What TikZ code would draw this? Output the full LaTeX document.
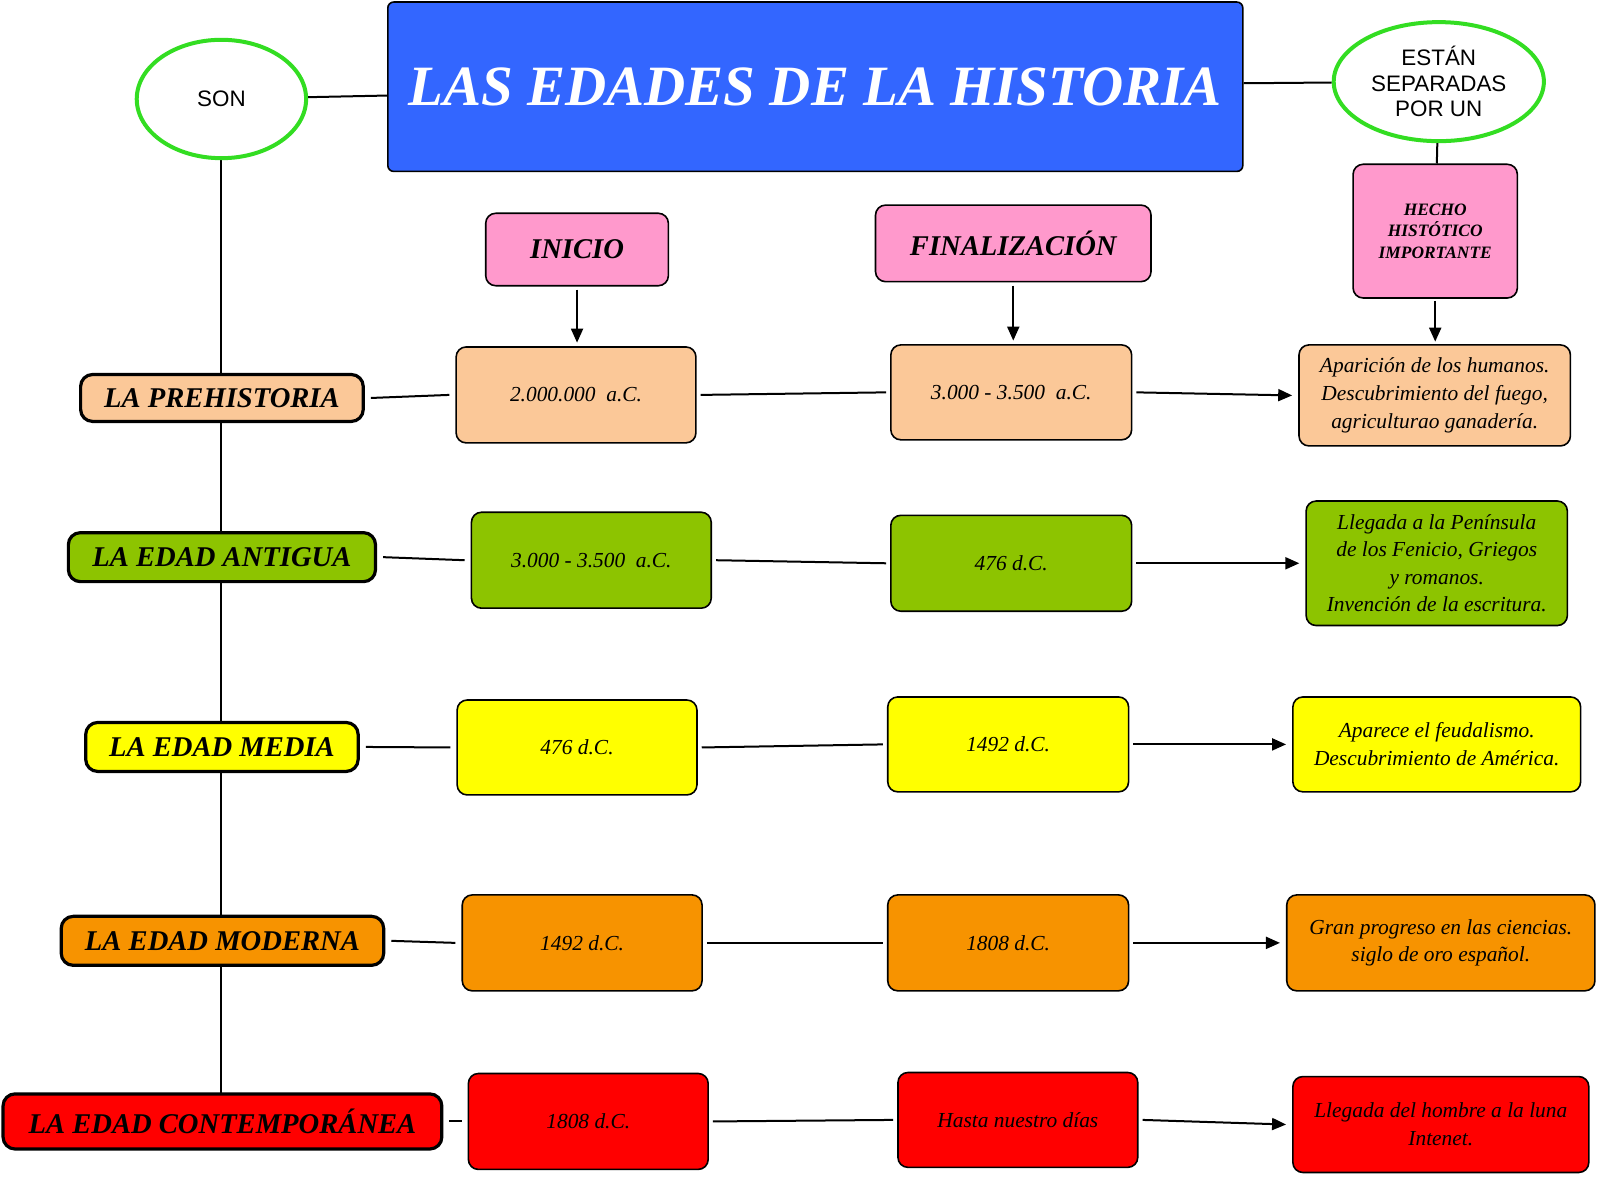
\documentclass[tikz,border=0pt]{standalone}
\usepackage{fontspec}
\setmainfont{Liberation Serif}
\setsansfont{Liberation Sans}
\usetikzlibrary{arrows.meta,shapes.geometric}
\definecolor{peach}{HTML}{FBC898}
\definecolor{lgreen}{HTML}{8DC400}
\definecolor{yel}{HTML}{FFFF00}
\definecolor{ora}{HTML}{F79300}
\definecolor{rd}{HTML}{FF0000}
\definecolor{pnk}{HTML}{FF99CC}
\definecolor{blu}{HTML}{3366FF}
\definecolor{egreen}{HTML}{33DD22}
\newcommand\bx[7]{\node[#2,minimum width=#5*0.5102pt,minimum height=#6*0.5102pt] (#1) at (#3,#4) {#7};}
\tikzset{
 bbox/.style={draw=black,line width=0.8pt,rounded corners=5pt,inner sep=2pt,align=center,font=\itshape\fontsize{10.7}{13.8}\selectfont},
 age/.style={draw=black,line width=1.6pt,rounded corners=6pt,inner sep=2pt,font=\bfseries\itshape\fontsize{14.3}{16}\selectfont},
 hdr/.style={bbox,fill=pnk,font=\bfseries\itshape\fontsize{14.3}{16}\selectfont},
 ell/.style={draw=egreen,line width=2pt,ellipse,fill=white,align=center,font=\sffamily\fontsize{11.2}{12.8}\selectfont},
 ln/.style={line width=1pt},
 arr/.style={line width=1pt,-{Triangle[length=7pt,width=6pt]}}
}
\begin{document}
\begin{tikzpicture}[x=0.5102pt,y=-0.5102pt]
% spine
\draw[ln] (217,155) -- (217,1072);
\node[ell,minimum width=84.7pt,minimum height=59.2pt] (son) at (217,97) {SON};
\node[ell,minimum width=93.9pt,minimum height=59.2pt] (est) at (1410,80) {ESTÁN\\SEPARADAS\\POR UN};
\node[draw=black,line width=0.8pt,rounded corners=3pt,fill=blu,minimum width=427.5pt,minimum height=84.7pt,inner sep=0pt,text=white,font=\bfseries\itshape\fontsize{28.5}{30}\selectfont] (tit) at (799,85) {LAS EDADES DE LA HISTORIA};
\draw[ln] (son) -- (tit);
\draw[ln] (tit) -- (est);
% headers
\bx{hi}{hdr}{565.5}{244.5}{179}{71}{INICIO}
\bx{hf}{hdr}{993}{238.5}{270}{75}{FINALIZACIÓN}
\bx{hh}{hdr,font=\bfseries\itshape\fontsize{8.7}{10.7}\selectfont}{1406.5}{226.5}{161}{131}{HECHO\\HISTÓTICO\\IMPORTANTE}
\draw[ln] (est) -- (hh);
\draw[arr] (hi.south) ++(0,3) -- ++(0,52);
\draw[arr] (hf.south) ++(0,3) -- ++(0,54);
\draw[arr] (hh.south) ++(0,2) -- ++(0,40);
% age labels
\bx{a1}{age,fill=peach}{217.5}{390}{277}{46}{LA PREHISTORIA}
\bx{a2}{age,fill=lgreen}{217.5}{546}{301}{48}{LA EDAD ANTIGUA}
\bx{a3}{age,fill=yel}{217.5}{732}{267}{48}{LA EDAD MEDIA}
\bx{a4}{age,fill=ora}{218}{922}{316}{48}{LA EDAD MODERNA}
\bx{a5}{age,fill=rd}{218}{1099}{430}{54}{LA EDAD CONTEMPORÁNEA}
% row1
\bx{i1}{bbox,fill=peach}{564.5}{387}{235}{94}{2.000.000\ \ a.C.}
\bx{f1}{bbox,fill=peach}{991}{384.5}{236}{93}{3.000 - 3.500\ \ a.C.}
\bx{h1}{bbox,fill=peach}{1406}{387.5}{266}{99}{Aparición de los humanos.\\Descubrimiento del fuego,\\agriculturao ganadería.}
% row2
\bx{i2}{bbox,fill=lgreen}{579.5}{549}{235}{94}{3.000 - 3.500\ \ a.C.}
\bx{f2}{bbox,fill=lgreen}{991}{552}{236}{94}{476 d.C.}
\bx{h2}{bbox,fill=lgreen}{1408}{552}{256}{122}{Llegada a la Península\\de los Fenicio, Griegos\\y romanos.\\Invención de la escritura.}
% row3
\bx{i3}{bbox,fill=yel}{565.5}{732.5}{235}{93}{476 d.C.}
\bx{f3}{bbox,fill=yel}{988}{729.5}{236}{93}{1492 d.C.}
\bx{h3}{bbox,fill=yel}{1408}{729.5}{282}{93}{Aparece el feudalismo.\\Descubrimiento de América.}
% row4
\bx{i4}{bbox,fill=ora}{570.5}{924}{235}{94}{1492 d.C.}
\bx{f4}{bbox,fill=ora}{988}{924}{236}{94}{1808 d.C.}
\bx{h4}{bbox,fill=ora}{1412}{924}{302}{94}{Gran progreso en las ciencias.\\siglo de oro español.}
% row5
\bx{i5}{bbox,fill=rd}{576.5}{1099}{235}{94}{1808 d.C.}
\bx{f5}{bbox,fill=rd}{997.5}{1097.5}{235}{93}{Hasta nuestro días}
\bx{h5}{bbox,fill=rd}{1412}{1102}{290}{94}{Llegada del hombre a la luna\\Intenet.}
% connectors
\foreach \n in {1,...,5}{
 \draw[ln] ([xshift=3pt]a\n.east) -- ([xshift=-3pt]i\n.west);
 \draw[ln] ([xshift=2pt]i\n.east) -- ([xshift=-2pt]f\n.west);
 \draw[arr] ([xshift=2pt]f\n.east) -- ([xshift=-3pt]h\n.west);
}
\pgfresetboundingbox
\useasboundingbox (0,0) rectangle (1568,1154.5);
\end{tikzpicture}
\end{document}
